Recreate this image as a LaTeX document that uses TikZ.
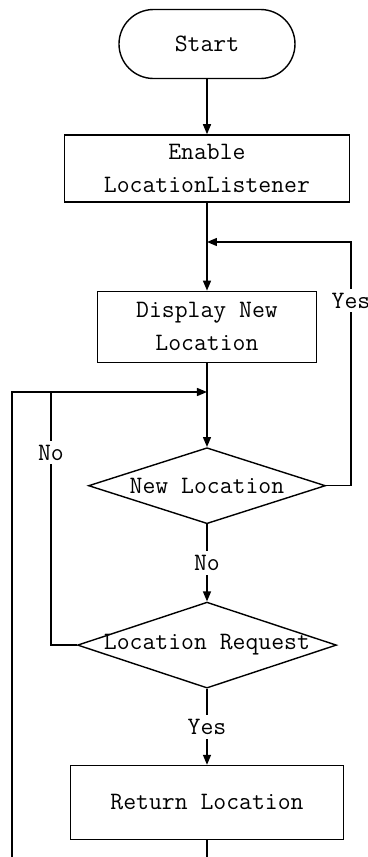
\documentclass[tikz,border=0pt]{standalone}
\usepackage{tikz}
\usetikzlibrary{positioning,arrows.meta,shapes.geometric}

\begin{document}
\begin{tikzpicture}[
  font=\fontsize{12.5}{16.5}\selectfont\ttfamily,
  line width=0.7pt,
  terminal/.style={draw, rounded corners=17.25pt, minimum width=88pt,
                   minimum height=34.5pt, inner sep=0pt},
  proc/.style={draw, align=center, inner sep=2pt, minimum height=34pt},
  decision/.style={draw, diamond, inner sep=0pt},
  arr/.style={-{Triangle[length=5pt,width=4pt]}},
  tag/.style={fill=white, inner sep=2pt}
]
\useasboundingbox (-103.5pt,22pt) rectangle (80.5pt,-406.5pt);

% main column
\node[terminal] (start) {Start};
\node[proc, minimum width=142.5pt, minimum height=33.5pt, below=27.5pt of start]
  (enable) {Enable\\LocationListener};
\node[proc, minimum width=109.5pt, minimum height=35.5pt, below=44pt of enable]
  (display) {Display New\\Location};
\node[decision, minimum width=118.5pt, minimum height=38pt, below=42pt of display,
  label=center:{New Location}] (newloc) {};
\node[decision, minimum width=129.5pt, minimum height=43pt, below=38.5pt of newloc,
  label=center:{Location Request}] (locreq) {};
\node[proc, minimum width=136.5pt, minimum height=37pt, below=38pt of locreq]
  (ret) {Return Location};

% joins on the main line and loop ends
\coordinate (yesjoin) at (0,-99pt);
\coordinate (yescorner) at (72pt,-99pt);
\coordinate (loopjoin) at (0,-174pt);
\coordinate (nocorner) at (-78pt,-174pt);
\coordinate (lowmid) at (0,-406.5pt);
\coordinate (lowleft) at (-97.5pt,-406.5pt);

% straight flow
\draw[arr] (start) -- (enable);
\draw[arr] (enable) -- (display);
\draw[arr] (display) -- (newloc);
\draw[arr] (newloc) -- node[tag]{No} (locreq);
\draw[arr] (locreq) -- node[tag]{Yes} (ret);
\draw (ret) -- (lowmid);

% loops back into the main line
\draw[arr] (newloc.east) -| node[tag, pos=0.88]{Yes} (yescorner) -- (yesjoin);
\draw (locreq.west) -| node[tag, pos=0.88]{No} (nocorner);
\draw[arr] (lowleft) |- (loopjoin);
\end{tikzpicture}
\end{document}
